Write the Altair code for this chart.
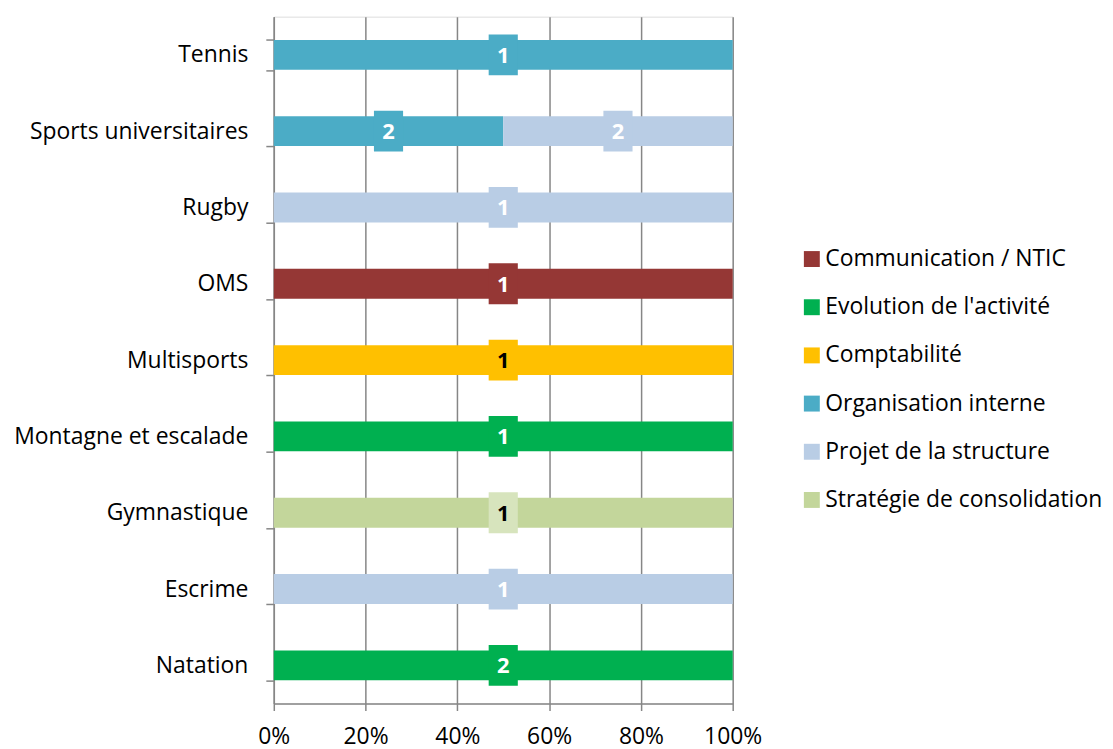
import altair as alt
import pandas as pd

sports_order = ["Tennis", "Sports universitaires", "Rugby", "OMS", "Multisports",
                "Montagne et escalade", "Gymnastique", "Escrime", "Natation"]
categories = ["Tennis", "Sports universitaires", "Sports universitaires", "Rugby", "OMS",
              "Multisports", "Montagne et escalade", "Gymnastique", "Escrime", "Natation"]
themes = ["Organisation interne", "Organisation interne", "Projet de la structure",
          "Projet de la structure", "Communication / NTIC", "Comptabilité",
          "Evolution de l'activité", "Stratégie de consolidation",
          "Projet de la structure", "Evolution de l'activité"]
counts = [1, 2, 2, 1, 1, 1, 1, 1, 1, 2]

theme_order = ["Communication / NTIC", "Evolution de l'activité", "Comptabilité",
               "Organisation interne", "Projet de la structure", "Stratégie de consolidation"]
theme_colors = ["#953735", "#00B050", "#FFC000", "#4BACC6", "#B9CDE5", "#C3D69B"]
box_colors = ["#953735", "#00B050", "#FFC000", "#4BACC6", "#B9CDE5", "#D7E4BD"]
text_colors = ["white", "white", "black", "white", "white", "black"]

df = pd.DataFrame({"sport": categories, "theme": themes, "count": counts})
df["order"] = df["theme"].map({t: i for i, t in enumerate(theme_order)})
df["box"] = df["theme"].map(dict(zip(theme_order, box_colors)))
df["tcol"] = df["theme"].map(dict(zip(theme_order, text_colors)))

FONT = "Open Sans"
FS = 23

base = alt.Chart(df).transform_stack(
    stack="count", groupby=["sport"], as_=["x0", "x1"], offset="normalize",
    sort=[alt.SortField("order", order="ascending")]
).transform_calculate(mid="(datum.x0 + datum.x1) / 2")

y_enc = alt.Y("sport:N", sort=sports_order, title=None,
              scale=alt.Scale(paddingInner=0.6, paddingOuter=0.3),
              axis=alt.Axis(tickBand="extent", labelFontSize=FS, labelFont=FONT,
                            labelColor="black", labelPadding=18, tickSize=8,
                            tickColor="#868686", domainColor="#868686",
                            tickWidth=1.5, domainWidth=1.5, grid=False,
                            labelLimit=400))

bars = base.mark_bar(size=30).encode(
    x=alt.X("x0:Q", scale=alt.Scale(domain=[0, 1]), title=None,
            axis=alt.Axis(format="%", values=[0, 0.2, 0.4, 0.6, 0.8, 1.0],
                          labelFontSize=FS, labelFont=FONT, labelColor="black",
                          labelFlush=False,
                          tickSize=7, labelPadding=15, tickColor="#868686",
                          domainColor="#868686", gridColor="#868686",
                          gridWidth=1.5, tickWidth=1.5, domainWidth=1.5,
                          gridOpacity=1)),
    x2="x1:Q",
    y=y_enc,
    color=alt.Color("theme:N", scale=alt.Scale(domain=theme_order, range=theme_colors),
                    title=None,
                    legend=alt.Legend(orient="none", legendX=529, legendY=232,
                                      symbolType="square", symbolSize=256,
                                      symbolStrokeWidth=0, labelFontSize=FS,
                                      labelFont=FONT, labelColor="black",
                                      rowPadding=24.4, labelOffset=2,
                                      labelLimit=400)),
)

boxes = base.mark_point(shape="M-0.714,-1H0.714V1H-0.714Z", filled=True, size=1681,
                        opacity=1, strokeWidth=0).encode(
    x="mid:Q", y=alt.Y("sport:N", sort=sports_order),
    color=alt.Color("box:N", scale=None),
)

labels = base.mark_text(fontSize=22, fontWeight="bold", font=FONT, baseline="middle",
                        dy=1).encode(
    x="mid:Q", y=alt.Y("sport:N", sort=sports_order),
    text="count:Q",
    color=alt.Color("tcol:N", scale=None),
)

chart = alt.layer(bars, boxes, labels).properties(
    width=461, height=690,
    autosize=alt.AutoSizeParams(type="none"),
    padding={"left": 267, "top": 7, "right": 374, "bottom": 44}
).configure_view(stroke=None).configure(background="white")

chart.save("out.html", embed_options={"renderer": "svg", "actions": False})
